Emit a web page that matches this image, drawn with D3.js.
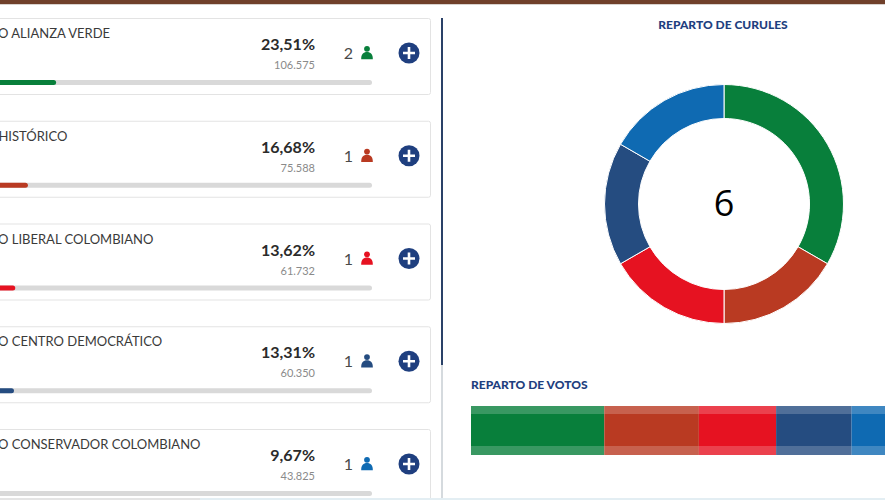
<!DOCTYPE html>
<html lang="es">
<head>
<meta charset="utf-8">
<script src="https://cdn.jsdelivr.net/npm/d3@7/dist/d3.min.js"></script>
<style>
html,body{margin:0;padding:0;background:#fff;overflow:hidden}
svg{display:block;font-family:Lato,sans-serif}
</style>
</head>
<body>
<svg id="chart" width="885" height="500"></svg>
<script>
const parties = ["PARTIDO ALIANZA VERDE","PACTO HISTÓRICO","PARTIDO LIBERAL COLOMBIANO","PARTIDO CENTRO DEMOCRÁTICO","PARTIDO CONSERVADOR COLOMBIANO"];
const percents = [23.51,16.68,13.62,13.31,9.67];
const percentLabels = ["23,51%","16,68%","13,62%","13,31%","9,67%"];
const voteLabels = ["106.575","75.588","61.732","60.350","43.825"];
const seats = [2,1,1,1,1];
const colors = ["#087f3b","#b93a22","#e61221","#254c80","#0f6ab2"];
const totalSeats = 6;

const svg = d3.select("#chart");
const navy = "#1f3f7f";

svg.append("rect").attr("x",0).attr("y",0).attr("width",885).attr("height",4).attr("fill","#70402b");
svg.append("rect").attr("x",0).attr("y",4).attr("width",885).attr("height",1).attr("fill","#d8d2ce");

// Cards
const yCard = d3.scaleBand().domain(d3.range(parties.length)).range([18,532]).paddingInner(0.26).paddingOuter(0);
const xBar = d3.scaleLinear().domain([0,100]).range([-41,372]);
const cards = svg.selectAll("g.card").data(parties).join("g").attr("class","card")
  .attr("transform",(d,i)=>`translate(0,${18+i*102.75})`);
cards.append("rect").attr("x",-20).attr("y",0.5).attr("width",450.5).attr("height",76)
  .attr("rx",2).attr("fill","#fff").attr("stroke","#e3e3e3");
cards.append("text").attr("x",-47).attr("y",20).attr("font-size",13).attr("fill","#3a3a3a").text(d=>d);
cards.append("text").attr("x",315).attr("y",32).attr("text-anchor","end").attr("font-size",16).attr("font-weight",700)
  .attr("fill","#2b2b2b").text((d,i)=>percentLabels[i]);
cards.append("text").attr("x",315).attr("y",51).attr("text-anchor","end").attr("font-size",11).attr("fill","#8a8a8a")
  .text((d,i)=>voteLabels[i]);
cards.append("rect").attr("x",xBar(0)).attr("y",62).attr("width",xBar(100)-xBar(0)).attr("height",5).attr("rx",2.5).attr("fill","#d9d9d9");
cards.append("rect").attr("x",xBar(0)).attr("y",62).attr("width",(d,i)=>xBar(percents[i])-xBar(0)).attr("height",5).attr("rx",2.5)
  .attr("fill",(d,i)=>colors[i]);
cards.append("text").attr("x",353).attr("y",41).attr("text-anchor","end").attr("font-size",16).attr("fill","#4a4a4a")
  .text((d,i)=>seats[i]);
const icon = cards.append("g").attr("transform","translate(367,35)").attr("fill",(d,i)=>colors[i]);
icon.append("circle").attr("cx",0).attr("cy",-4.2).attr("r",2.9);
icon.append("path").attr("d","M-5.8,6.2 C-6,1.5 -3.5,-1 0,-1 C3.5,-1 6,1.5 5.8,6.2 Z");
const plus = cards.append("g").attr("transform","translate(409,35)");
plus.append("circle").attr("r",10.5).attr("fill",navy);
plus.append("path").attr("d","M-6,0H6M0,-6V6").attr("stroke","#fff").attr("stroke-width",2.6);

// Divider
svg.append("rect").attr("x",441).attr("y",18).attr("width",2).attr("height",482).attr("fill","#d5dade");
svg.append("rect").attr("x",441).attr("y",18).attr("width",2).attr("height",347).attr("fill","#2a4168");

// Donut
svg.append("text").attr("x",723).attr("y",29).attr("text-anchor","middle").attr("font-size",12).attr("font-weight",900)
  .attr("fill",navy).text("REPARTO DE CURULES");
const pie = d3.pie().sort(null).value(d=>d)(seats);
const arc = d3.arc().innerRadius(85.5).outerRadius(119.5);
const donut = svg.append("g").attr("transform","translate(724,204)");
donut.selectAll("path").data(pie).join("path").attr("d",arc)
  .attr("fill",(d,i)=>colors[i]).attr("stroke","#fff").attr("stroke-width",1);
donut.append("text").attr("x",0).attr("y",12).attr("text-anchor","middle").attr("font-size",36)
  .attr("font-family","'Open Sans',sans-serif").attr("fill","#000").text(totalSeats);

// Votes stacked bar
svg.append("text").attr("x",471).attr("y",389).attr("font-size",12).attr("font-weight",900)
  .attr("fill",navy).text("REPARTO DE VOTOS");
const xVotes = d3.scaleLinear().domain([0,100]).range([471,1038]);
const cum = d3.cumsum(percents);
const seg = svg.selectAll("g.seg").data(percents).join("g").attr("class","seg");
const sx = (d,i)=>xVotes(i?cum[i-1]:0);
const sw = (d,i)=>xVotes(cum[i])-sx(d,i);
seg.append("rect").attr("x",sx).attr("y",406).attr("width",sw).attr("height",49)
  .attr("fill",(d,i)=>colors[i]);
seg.append("rect").attr("x",sx).attr("y",406).attr("width",sw).attr("height",8)
  .attr("fill","#fff").attr("fill-opacity",0.2);
seg.append("rect").attr("x",sx).attr("y",446).attr("width",sw).attr("height",9)
  .attr("fill","#fff").attr("fill-opacity",0.2);

// Bottom window edge
svg.append("rect").attr("x",0).attr("y",498).attr("width",200).attr("height",2).attr("fill","#e4e4e4");
svg.append("rect").attr("x",200).attr("y",498).attr("width",685).attr("height",2).attr("fill","#e3eef3");
</script>
</body>
</html>
